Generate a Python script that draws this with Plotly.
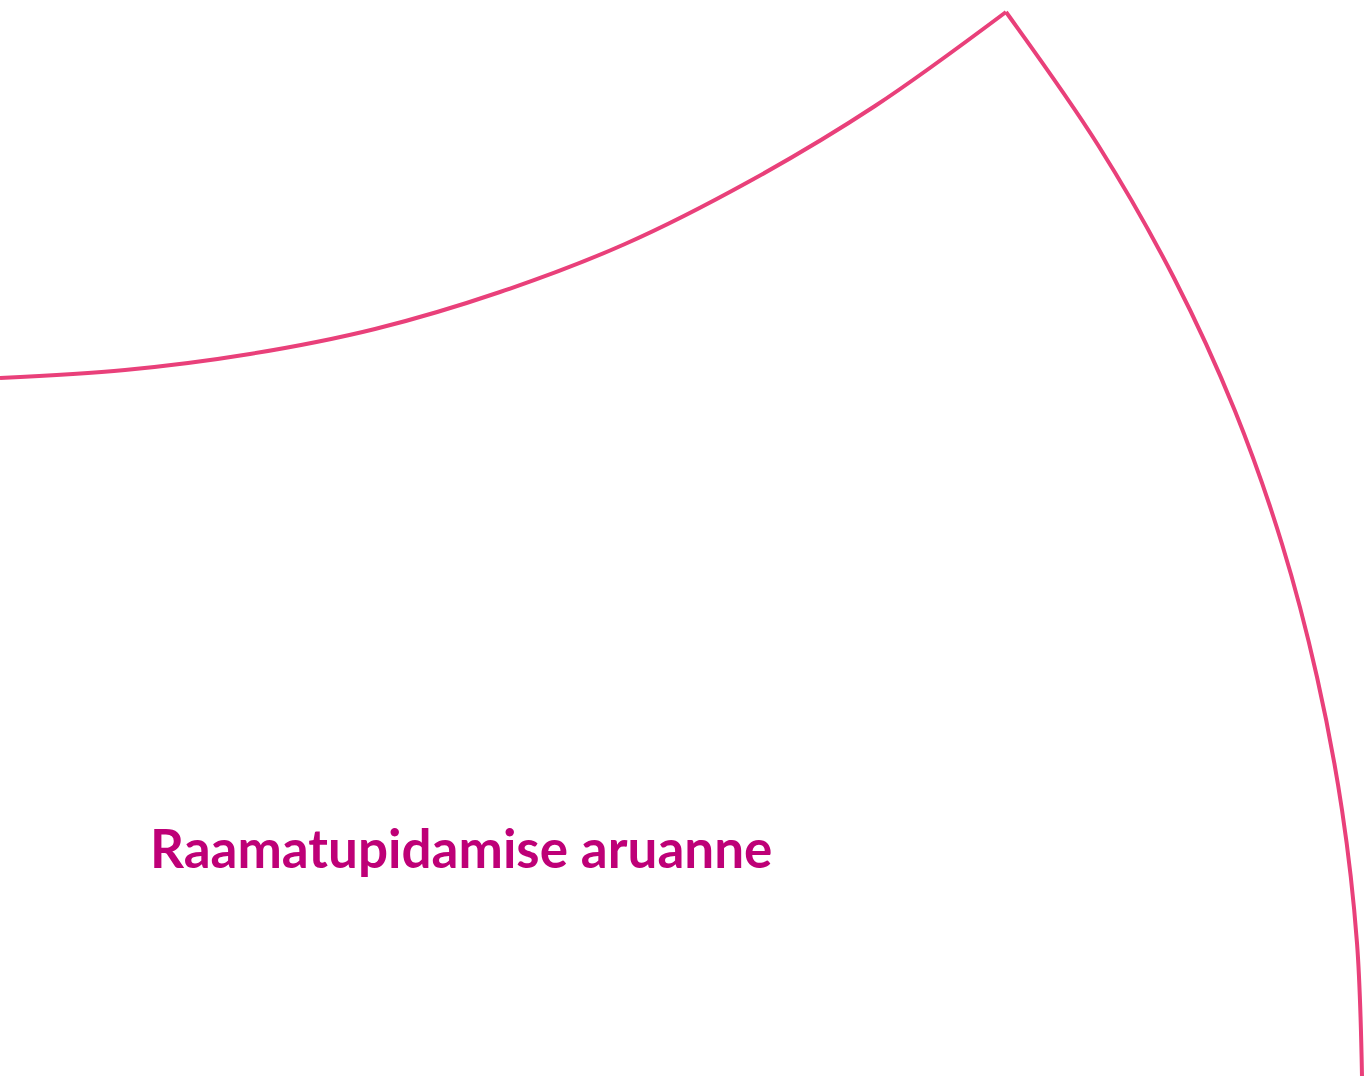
import plotly.graph_objects as go

# Points (pixel coordinates, y downward)
left_x = [0, 125, 250, 375, 500, 625, 750, 875, 1006]
left_y = [378, 370, 354, 329, 292, 244, 181, 106, 12]
right_x = [1006, 1098, 1174, 1235, 1282, 1317, 1342, 1357, 1362]
right_y = [12, 145, 278, 411, 544, 677, 810, 943, 1076]
title_text = "Raamatupidamise aruanne"

W, H = 1366, 1076
line_color = "#E9407A"
text_color = "#BE0077"

fig = go.Figure()
for xs, ys in ((left_x, left_y), (right_x, right_y)):
    fig.add_trace(go.Scatter(x=xs, y=ys, mode="lines",
                             line=dict(color=line_color, width=4, shape="spline", smoothing=1.0),
                             hoverinfo="skip", showlegend=False, cliponaxis=False))

fig.add_annotation(x=148, y=868, xref="x", yref="y", text="<b>" + title_text + "</b>",
                   showarrow=False, xanchor="left", yanchor="bottom", yshift=-13,
                   font=dict(family="Lato", size=53, color=text_color))

fig.update_layout(width=W, height=H, margin=dict(l=0, r=0, t=0, b=0),
                  paper_bgcolor="white", plot_bgcolor="white",
                  xaxis=dict(range=[0, W], visible=False, fixedrange=True),
                  yaxis=dict(range=[H, 0], visible=False, fixedrange=True))
fig.write_html("out.html", config={"displayModeBar": False},
               post_script="document.body.style.margin='0';document.body.style.overflow='hidden';")
